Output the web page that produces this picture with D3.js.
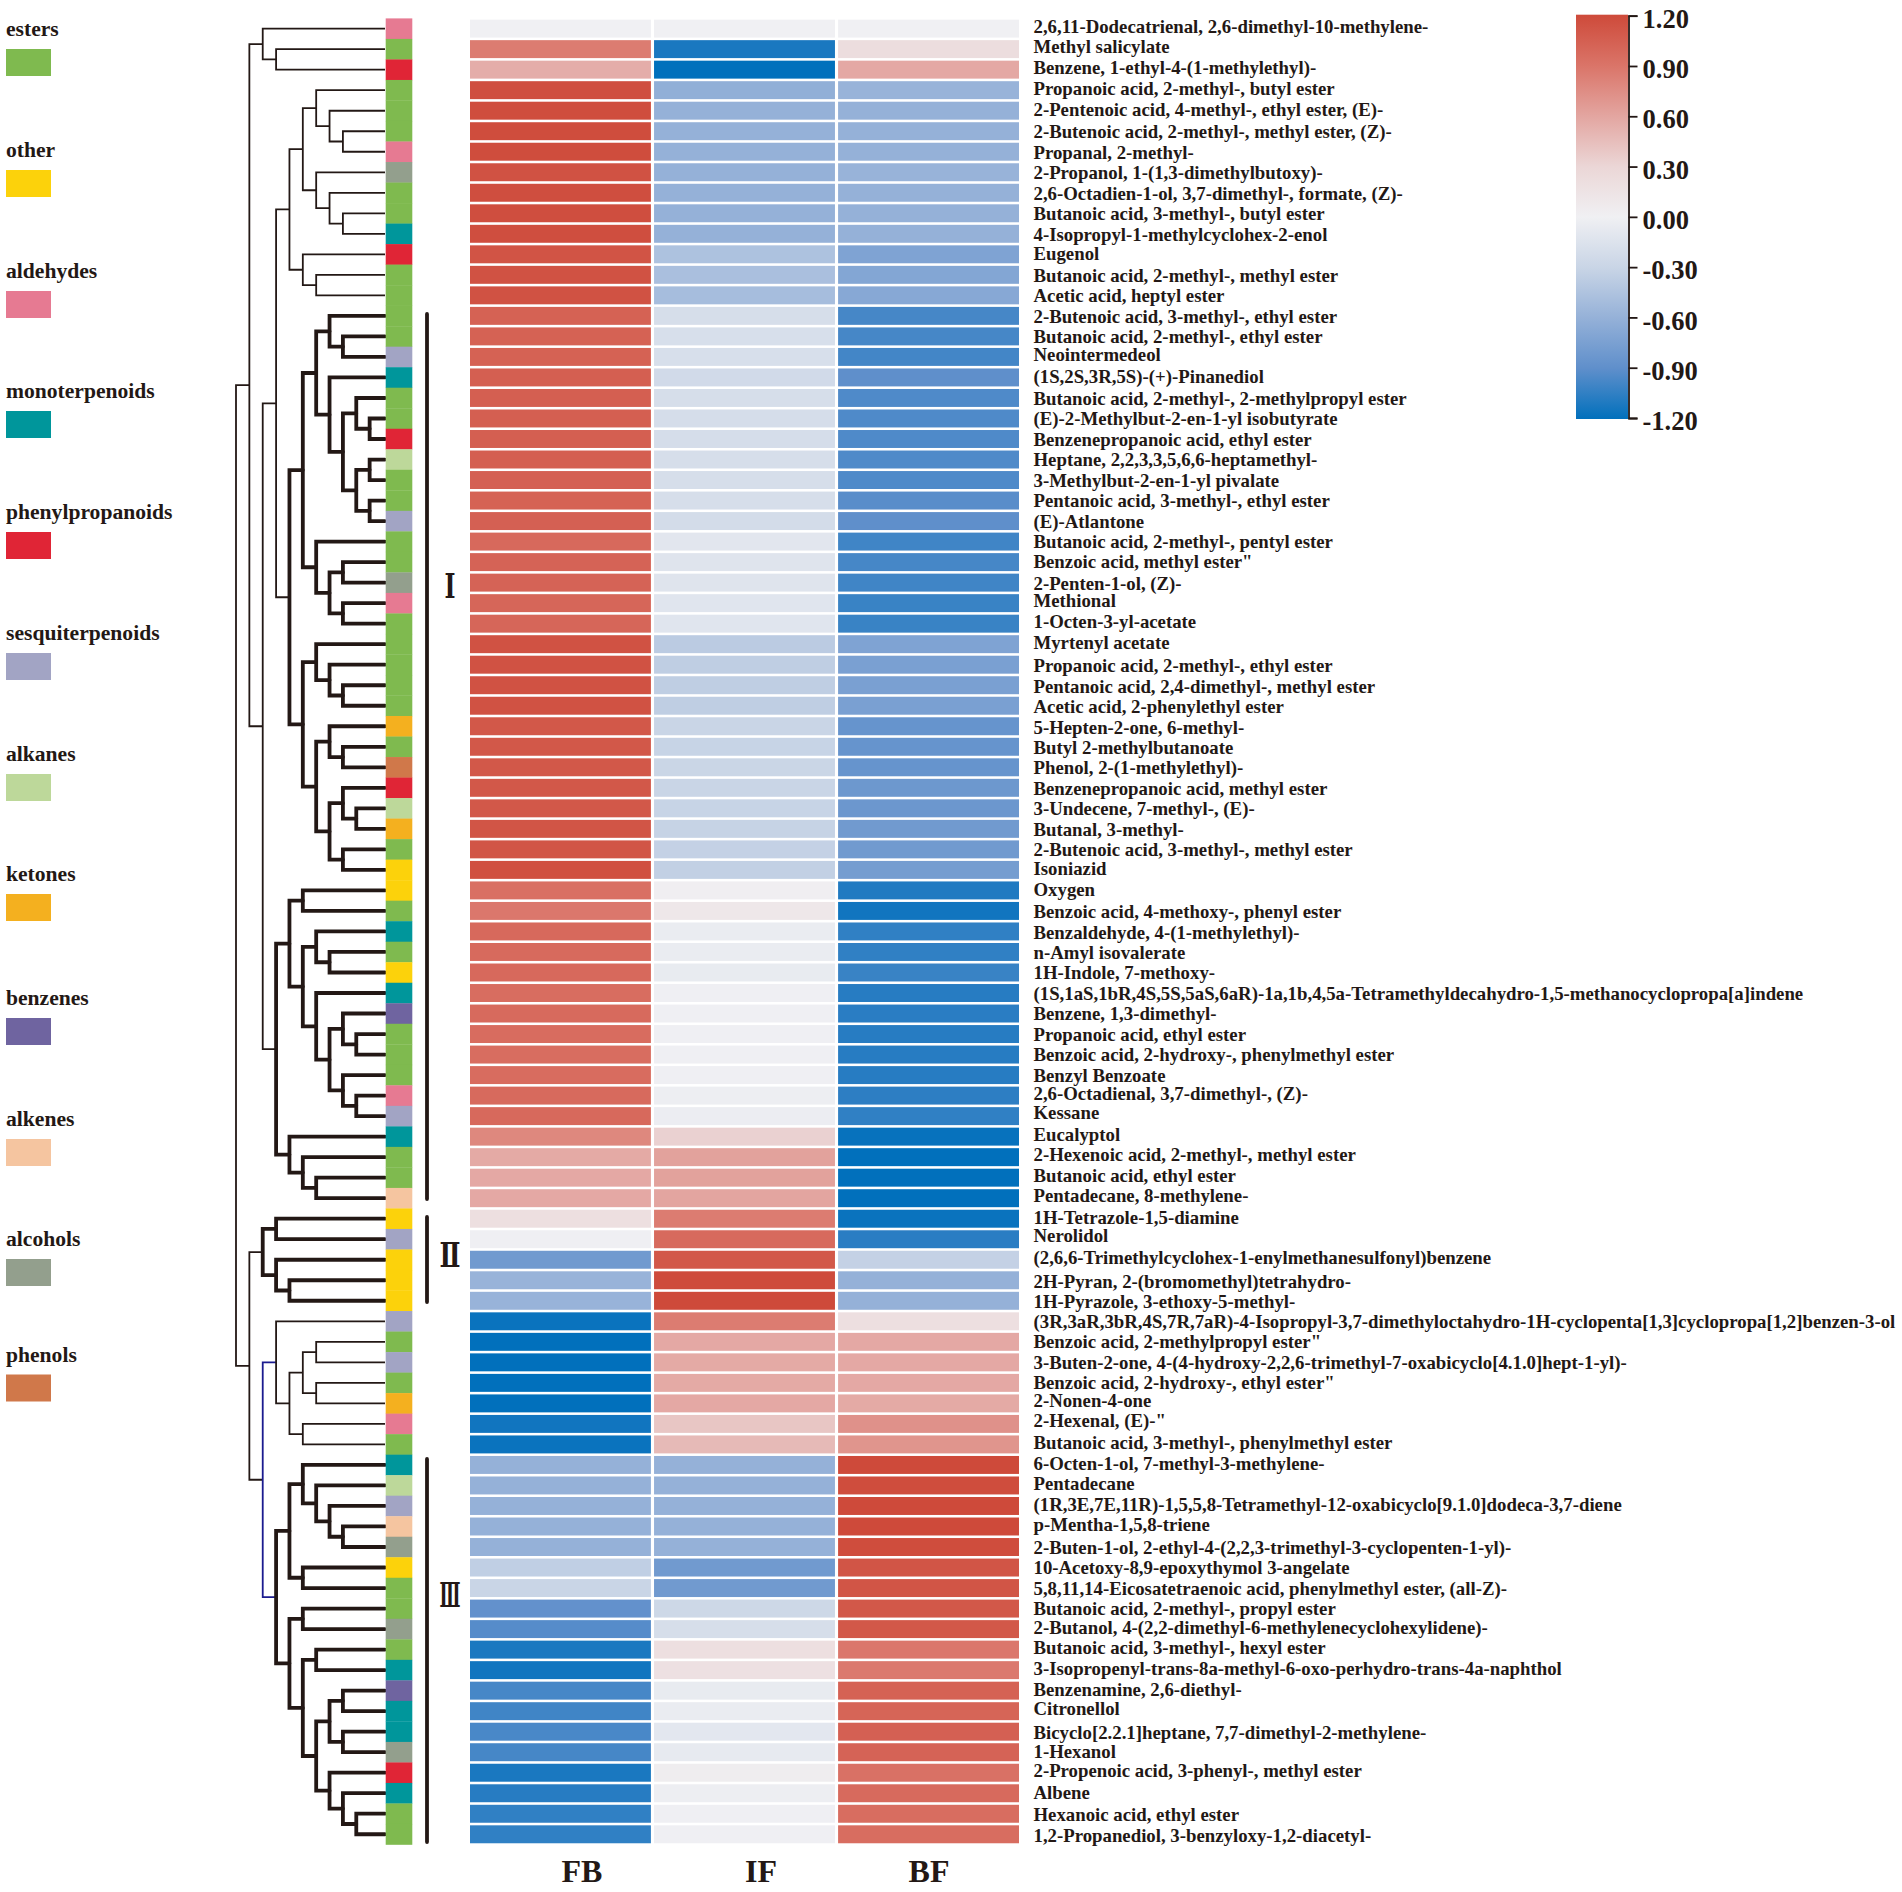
<!DOCTYPE html>
<html>
<head>
<meta charset="utf-8">
<script src="https://cdnjs.cloudflare.com/ajax/libs/d3/7.8.5/d3.min.js"></script>
<style>
  html, body { margin: 0; padding: 0; background: #fff; }
  text { font-family: "Liberation Serif", serif; font-weight: bold; fill: #231815; }
</style>
</head>
<body>
<div id="chart"></div>
<script>
// heatmap columns and compounds, top to bottom
var samples = ["FB", "IF", "BF"];

var compounds = [
	"2,6,11-Dodecatrienal, 2,6-dimethyl-10-methylene-", "Methyl salicylate", "Benzene, 1-ethyl-4-(1-methylethyl)-",
	"Propanoic acid, 2-methyl-, butyl ester", "2-Pentenoic acid, 4-methyl-, ethyl ester, (E)-", "2-Butenoic acid, 2-methyl-, methyl ester, (Z)-",
	"Propanal, 2-methyl-", "2-Propanol, 1-(1,3-dimethylbutoxy)-", "2,6-Octadien-1-ol, 3,7-dimethyl-, formate, (Z)-",
	"Butanoic acid, 3-methyl-, butyl ester", "4-Isopropyl-1-methylcyclohex-2-enol", "Eugenol",
	"Butanoic acid, 2-methyl-, methyl ester", "Acetic acid, heptyl ester", "2-Butenoic acid, 3-methyl-, ethyl ester",
	"Butanoic acid, 2-methyl-, ethyl ester", "Neointermedeol", "(1S,2S,3R,5S)-(+)-Pinanediol",
	"Butanoic acid, 2-methyl-, 2-methylpropyl ester", "(E)-2-Methylbut-2-en-1-yl isobutyrate", "Benzenepropanoic acid, ethyl ester",
	"Heptane, 2,2,3,3,5,6,6-heptamethyl-", "3-Methylbut-2-en-1-yl pivalate", "Pentanoic acid, 3-methyl-, ethyl ester",
	"(E)-Atlantone", "Butanoic acid, 2-methyl-, pentyl ester", "Benzoic acid, methyl ester\"",
	"2-Penten-1-ol, (Z)-", "Methional", "1-Octen-3-yl-acetate",
	"Myrtenyl acetate", "Propanoic acid, 2-methyl-, ethyl ester", "Pentanoic acid, 2,4-dimethyl-, methyl ester",
	"Acetic acid, 2-phenylethyl ester", "5-Hepten-2-one, 6-methyl-", "Butyl 2-methylbutanoate",
	"Phenol, 2-(1-methylethyl)-", "Benzenepropanoic acid, methyl ester", "3-Undecene, 7-methyl-, (E)-",
	"Butanal, 3-methyl-", "2-Butenoic acid, 3-methyl-, methyl ester", "Isoniazid",
	"Oxygen", "Benzoic acid, 4-methoxy-, phenyl ester", "Benzaldehyde, 4-(1-methylethyl)-",
	"n-Amyl isovalerate", "1H-Indole, 7-methoxy-", "(1S,1aS,1bR,4S,5S,5aS,6aR)-1a,1b,4,5a-Tetramethyldecahydro-1,5-methanocyclopropa[a]indene",
	"Benzene, 1,3-dimethyl-", "Propanoic acid, ethyl ester", "Benzoic acid, 2-hydroxy-, phenylmethyl ester",
	"Benzyl Benzoate", "2,6-Octadienal, 3,7-dimethyl-, (Z)-", "Kessane",
	"Eucalyptol", "2-Hexenoic acid, 2-methyl-, methyl ester", "Butanoic acid, ethyl ester",
	"Pentadecane, 8-methylene-", "1H-Tetrazole-1,5-diamine", "Nerolidol",
	"(2,6,6-Trimethylcyclohex-1-enylmethanesulfonyl)benzene", "2H-Pyran, 2-(bromomethyl)tetrahydro-", "1H-Pyrazole, 3-ethoxy-5-methyl-",
	"(3R,3aR,3bR,4S,7R,7aR)-4-Isopropyl-3,7-dimethyloctahydro-1H-cyclopenta[1,3]cyclopropa[1,2]benzen-3-ol", "Benzoic acid, 2-methylpropyl ester\"", "3-Buten-2-one, 4-(4-hydroxy-2,2,6-trimethyl-7-oxabicyclo[4.1.0]hept-1-yl)-",
	"Benzoic acid, 2-hydroxy-, ethyl ester\"", "2-Nonen-4-one", "2-Hexenal, (E)-\"",
	"Butanoic acid, 3-methyl-, phenylmethyl ester", "6-Octen-1-ol, 7-methyl-3-methylene-", "Pentadecane",
	"(1R,3E,7E,11R)-1,5,5,8-Tetramethyl-12-oxabicyclo[9.1.0]dodeca-3,7-diene", "p-Mentha-1,5,8-triene", "2-Buten-1-ol, 2-ethyl-4-(2,2,3-trimethyl-3-cyclopenten-1-yl)-",
	"10-Acetoxy-8,9-epoxythymol 3-angelate", "5,8,11,14-Eicosatetraenoic acid, phenylmethyl ester, (all-Z)-", "Butanoic acid, 2-methyl-, propyl ester",
	"2-Butanol, 4-(2,2-dimethyl-6-methylenecyclohexylidene)-", "Butanoic acid, 3-methyl-, hexyl ester", "3-Isopropenyl-trans-8a-methyl-6-oxo-perhydro-trans-4a-naphthol",
	"Benzenamine, 2,6-diethyl-", "Citronellol", "Bicyclo[2.2.1]heptane, 7,7-dimethyl-2-methylene-",
	"1-Hexanol", "2-Propenoic acid, 3-phenyl-, methyl ester", "Albene",
	"Hexanoic acid, ethyl ester", "1,2-Propanediol, 3-benzyloxy-1,2-diacetyl-"
];

// values with the colour bar, one list per column
var valuesFB = [
	0, .85, .55, 1.17, 1.18, 1.18, 1.18, 1.14, 1.17, 1.17, 1.17, 1.13, 1.14, 1.14, 1.03,
	1.03, 1.03, 1.05, 1.05, 1.05, 1.05, 1.05, 1.04, 1.03, 1.04, .98, 1.02, 1.02, 1, 1,
	1.14, 1.14, 1.14, 1.14, 1.1, 1.1, 1.1, 1.1, 1.1, 1.12, 1.12, 1.16, .93, .88, .98,
	.97, .98, .95, .97, .96, .95, .96, .97, .98, .78, .57, .58, .58, .2, -.01,
	-.8, -.58, -.58, -1.17, -1.2, -1.2, -1.2, -1.2, -1.15, -1.17, -.6, -.6, -.6, -.6, -.6,
	-.35, -.3, -.88, -.93, -1.12, -1.15, -.98, -1, -.97, -.98, -1.12, -1.08, -1.05, -1.05
];
var valuesIF = [
	0, -1.12, -1.2, -.62, -.6, -.6, -.6, -.6, -.6, -.6, -.6, -.46, -.48, -.5, -.2,
	-.19, -.19, -.24, -.2, -.21, -.21, -.2, -.2, -.2, -.22, -.11, -.13, -.13, -.12, -.12,
	-.38, -.36, -.36, -.36, -.3, -.31, -.29, -.3, -.31, -.32, -.33, -.34, .02, .1, -.05,
	-.05, -.06, -.01, -.01, -.01, -.01, -.01, -.02, -.03, .33, .62, .62, .6, .85, .97,
	1.1, 1.19, 1.2, .85, .58, .57, .57, .58, .4, .47, -.6, -.6, -.6, -.6, -.6,
	-.8, -.8, -.27, -.2, .2, .18, -.06, -.05, -.1, -.07, .04, -.02, -.01, -.01
];
var valuesBF = [
	0, .22, .58, -.58, -.6, -.6, -.6, -.58, -.6, -.6, -.6, -.72, -.7, -.68, -.98,
	-.98, -.99, -.9, -.95, -.95, -.95, -.95, -.95, -.92, -.9, -1, -.98, -1, -1.02, -1.02,
	-.72, -.75, -.75, -.75, -.86, -.86, -.86, -.82, -.83, -.8, -.8, -.78, -1.1, -1.15, -1.05,
	-1.05, -1.02, -1.08, -1.07, -1.08, -1.08, -1.08, -1.06, -1.05, -1.18, -1.2, -1.2, -1.2, -1.17, -1.07,
	-.33, -.6, -.6, .2, .58, .58, .58, .57, .72, .7, 1.2, 1.18, 1.2, 1.2, 1.18,
	1.12, 1.12, 1.1, 1.1, .88, .87, 1.03, 1.01, 1.04, 1.02, .92, .97, .95, .95
];

// compound classes for the legend and the strip next to the tree
var classNames = ["esters", "other", "aldehydes", "monoterpenoids", "phenylpropanoids", "sesquiterpenoids",
	"alkanes", "ketones", "benzenes", "alkenes", "alcohols", "phenols"];
var classColors = ["#7FBA4F", "#FCD20B", "#E67A92", "#00969B", "#E02536", "#A2A4C4",
	"#BDD89A", "#F4B01F", "#6F64A0", "#F5C5A0", "#939F8D", "#D0784A"];

var rowClass = [
	"aldehydes", "esters", "phenylpropanoids", "esters", "esters", "esters", "aldehydes", "alcohols", "esters", "esters",
	"monoterpenoids", "phenylpropanoids", "esters", "esters", "esters", "esters", "sesquiterpenoids", "monoterpenoids", "esters", "esters",
	"phenylpropanoids", "alkanes", "esters", "esters", "sesquiterpenoids", "esters", "esters", "alcohols", "aldehydes", "esters",
	"esters", "esters", "esters", "esters", "ketones", "esters", "phenols", "phenylpropanoids", "alkanes", "ketones",
	"esters", "other", "other", "esters", "monoterpenoids", "esters", "other", "monoterpenoids", "benzenes", "esters",
	"esters", "esters", "aldehydes", "sesquiterpenoids", "monoterpenoids", "esters", "esters", "alkenes", "other", "sesquiterpenoids",
	"other", "other", "other", "sesquiterpenoids", "esters", "sesquiterpenoids", "esters", "ketones", "aldehydes", "esters",
	"monoterpenoids", "alkanes", "sesquiterpenoids", "alkenes", "alcohols", "other", "esters", "esters", "alcohols", "esters",
	"monoterpenoids", "benzenes", "monoterpenoids", "monoterpenoids", "alcohols", "phenylpropanoids", "monoterpenoids", "esters", "esters"
];

// dendrogram as nested lists, numbers are rows counted from 1
var top3 = [1, [2, 3]];
var thinEsters = [[[4, [5, [6, 7]]], [8, [9, [10, 11]]]], [12, [13, 14]]];
var clusterIa = [[[[15, [16, 17]], [18, [[19, [20, 21]], [[22, 23], [24, 25]]]]], [26, [[27, 28], [29, 30]]]],
	[[31, [32, [33, 34]]], [[35, [36, 37]], [[38, [39, 40]], [41, 42]]]]];
var clusterIb = [[[43, 44], [[45, [46, 47]], [48, [[49, [50, 51]], [52, [53, 54]]]]]], [55, [56, [57, 58]]]];
var clusterII = [[59, 60], [61, [62, 63]]];
var thinMixed = [64, [[[65, 66], [67, 68]], [69, 70]]];
var clusterIII = [[[71, [72, [73, [74, 75]]]], [76, 77]],
	[[78, 79], [[80, 81], [[[82, 83], [84, 85]], [86, [87, [88, 89]]]]]]];
var treeRows = [[top3, [[thinEsters, clusterIa], clusterIb]], [clusterII, [thinMixed, clusterIII]]];

// clades drawn with the heavy line: first and last row
var heavyClades = [[15, 42], [43, 58], [59, 63], [71, 89]];
// clade drawn in blue in the reference
var blueClade = [64, 89];

var clusterNames = ["Ⅰ", "Ⅱ", "Ⅲ"];

var colorTicks = [1.2, .9, .6, .3, 0, -.3, -.6, -.9, -1.2];
var colorStops = ["#CE4A3A", "#DA7468", "#E3A5A0", "#EBD6D6", "#F0F0F3", "#C9D5E6", "#95B1D8", "#5F8FCB", "#0170BC"];

// layout
var width = 1902;
var height = 1892;
var ink = "#231815";
var rowTop = 18.4;
var rowBottom = 1844.5;

// the labels in the reference are not quite on the rows, offset per row in px
var labelDy = [
	-1.7, -1.7, -1.7, -.7, -.7, 1.3, 1.3, 1.3, 1.3, 1.3, 1.3, -.2, 1.3, 1.3, 1.3, 1.3, -1.7, -.4, 1.3, 1.3,
	1.3, 1.3, 1.3, 1.2, 1.5, 1.2, .7, 1.7, -1.3, -1, -1, 1.3, 1.7, 1.7, 2, 2, 1.3, 1.7, 1.3, 1.7,
	1.3, 0, .3, 1.3, 1.7, 1.5, 1, 1, 1, 1, 1.3, 1.3, -1.3, -3, -1.7, -1.3, -1.7, -1.3, -.3, -2.7,
	-1, 1.7, 1.7, 1.3, 1, 1, 1, -2.2, -2.3, -1, -1, -.7, -.7, -1, 1.7, 1.3, 1.3, 1.3, -.7, -1,
	-.7, -.3, -1.7, 1.3, 0, -1, .3, 1.7, 1.7
];
var legendTops = [49, 170, 291, 411, 532, 653, 774, 894, 1018, 1139, 1259, 1374.5];
var headerX = [582, 761, 929];
var clusterBarTop = [314, 1217, 1459];
var clusterBarBottom = [1199, 1302, 1842];
var clusterBaseline = [598, 1267, 1607];
var clusterWidth = [11, 21, 21];

var svg = d3.select("#chart").append("svg")
	.attr("width", width)
	.attr("height", height);

// scales
var rowNumbers = d3.range(1, compounds.length + 1);
var scaleRow = d3.scaleBand().domain(rowNumbers).range([rowTop, rowBottom]);
var scaleCell = d3.scaleBand().domain(rowNumbers).range([rowTop, rowBottom]).paddingInner(.125).paddingOuter(.06);
var scaleSample = d3.scaleBand().domain(samples).range([470, 1019]).paddingInner(.017);
var scaleColor = d3.scaleLinear().domain(colorTicks).range(colorStops);
var scaleClass = d3.scaleOrdinal().domain(classNames).range(classColors);
var scaleDepth = d3.scaleLinear().domain([0, 11]).range([236, 383]);

function rowMiddle(row) {
	return scaleRow(row) + scaleRow.bandwidth() / 2;
}

// legend
var legend = svg.selectAll(".legendItem")
	.data(classNames)
	.enter()
	.append("g")
	.attr("class", "legendItem")
	.attr("transform", function(d, i) { return "translate(6," + legendTops[i] + ")"; });
legend.append("rect")
	.attr("width", 45)
	.attr("height", 27)
	.style("fill", function(d) { return scaleClass(d); });
legend.append("text")
	.attr("y", -13)
	.style("font-size", "21.6px")
	.text(function(d) { return d; });

// dendrogram
var root = d3.hierarchy(treeRows, function(d) { return Array.isArray(d) ? d : null; });
root.eachAfter(function(n) {
	if (n.children) {
		n.rowY = (n.children[0].rowY + n.children[n.children.length - 1].rowY) / 2;
		n.firstRow = n.children[0].firstRow;
		n.lastRow = n.children[n.children.length - 1].lastRow;
	}
	else {
		n.rowY = rowMiddle(n.data);
		n.firstRow = n.lastRow = n.data;
	}
});

function nodeX(n) {
	return n.children ? scaleDepth(n.depth) : 385;
}

function isHeavy(n) {
	return heavyClades.some(function(c) { return n.firstRow >= c[0] && n.lastRow <= c[1]; });
}

svg.append("g")
	.selectAll("path")
	.data(root.descendants().filter(function(n) { return n.children; }))
	.enter()
	.append("path")
	.attr("d", function(n) {
		var a = n.children[0];
		var b = n.children[1];
		return "M" + nodeX(a) + "," + a.rowY + "H" + nodeX(n) + "V" + b.rowY + "H" + nodeX(b);
	})
	.style("fill", "none")
	.style("stroke", function(n) {
		return (n.firstRow == blueClade[0] && n.lastRow == blueClade[1]) ? "#1B1B8F" : ink;
	})
	.style("stroke-width", function(n) { return isHeavy(n) ? 3.8 : 1.8; })
	.style("stroke-linecap", function(n) { return isHeavy(n) ? "round" : "butt"; });

// class strip
svg.append("g")
	.selectAll("rect")
	.data(rowNumbers)
	.enter()
	.append("rect")
	.attr("x", 385.7)
	.attr("y", function(d) { return scaleRow(d); })
	.attr("width", 26.6)
	.attr("height", scaleRow.bandwidth() + .3)
	.style("fill", function(d) { return scaleClass(rowClass[d - 1]); });

// cluster bars and numerals
var clusters = svg.selectAll(".cluster")
	.data(clusterNames)
	.enter()
	.append("g")
	.attr("class", "cluster");
clusters.append("line")
	.attr("x1", 427)
	.attr("x2", 427)
	.attr("y1", function(d, i) { return clusterBarTop[i]; })
	.attr("y2", function(d, i) { return clusterBarBottom[i]; })
	.style("stroke", ink)
	.style("stroke-width", 3.8)
	.style("stroke-linecap", "round");
clusters.append("text")
	.attr("x", 450)
	.attr("y", function(d, i) { return clusterBaseline[i]; })
	.attr("text-anchor", "middle")
	.attr("textLength", function(d, i) { return clusterWidth[i]; })
	.attr("lengthAdjust", "spacingAndGlyphs")
	.style("font-family", "'DejaVu Serif', serif")
	.style("font-size", "34px")
	.text(function(d) { return d; });

// heatmap
var columns = [valuesFB, valuesIF, valuesBF];
samples.forEach(function(sample, c) {
	svg.append("g")
		.selectAll("rect")
		.data(columns[c])
		.enter()
		.append("rect")
		.attr("x", scaleSample(sample))
		.attr("y", function(d, i) { return scaleCell(i + 1); })
		.attr("width", scaleSample.bandwidth())
		.attr("height", scaleCell.bandwidth())
		.style("fill", function(d) { return scaleColor(d); });
});

// compound names
svg.append("g")
	.selectAll("text")
	.data(compounds)
	.enter()
	.append("text")
	.attr("x", 1033.5)
	.attr("y", function(d, i) { return scaleCell(i + 1) + scaleCell.bandwidth() / 2 + labelDy[i] + 5.6; })
	.style("font-size", "18.8px")
	.text(function(d) { return d; });

// column headers
svg.append("g")
	.selectAll("text")
	.data(samples)
	.enter()
	.append("text")
	.attr("x", function(d, i) { return headerX[i]; })
	.attr("y", 1882)
	.attr("text-anchor", "middle")
	.style("font-size", "32px")
	.text(function(d) { return d; });

// colour bar
var barX = 1576;
var barW = 52;
var scaleBar = d3.scaleLinear().domain([1.2, -1.2]).range([15.7, 418]);
var defs = svg.append("defs");
var gradient = defs.append("linearGradient")
	.attr("id", "barGradient")
	.attr("x1", 0).attr("x2", 0).attr("y1", 0).attr("y2", 1);
colorTicks.forEach(function(t, i) {
	gradient.append("stop")
		.attr("offset", (scaleBar(t) - scaleBar(1.2)) / (scaleBar(-1.2) - scaleBar(1.2)))
		.attr("stop-color", colorStops[i]);
});
svg.append("rect")
	.attr("x", barX)
	.attr("y", scaleBar(1.2) - 1)
	.attr("width", barW)
	.attr("height", scaleBar(-1.2) - scaleBar(1.2) + 2)
	.style("fill", "url(#barGradient)");

var axisBar = d3.axisRight(scaleBar)
	.tickValues(colorTicks)
	.tickSize(9)
	.tickSizeOuter(9)
	.tickPadding(5)
	.tickFormat(function(d) { return d.toFixed(2); });
var axisG = svg.append("g")
	.attr("class", "axis")
	.attr("transform", "translate(" + (barX + barW + .5) + ",0)")
	.call(axisBar);
axisG.selectAll("path, line")
	.style("stroke", ink)
	.style("stroke-width", 1.8);
axisG.selectAll("text")
	.attr("dy", "0.44em")
	.style("font-family", "'Liberation Serif', serif")
	.style("font-size", "26.5px")
	.style("fill", ink);
</script>
</body>
</html>
